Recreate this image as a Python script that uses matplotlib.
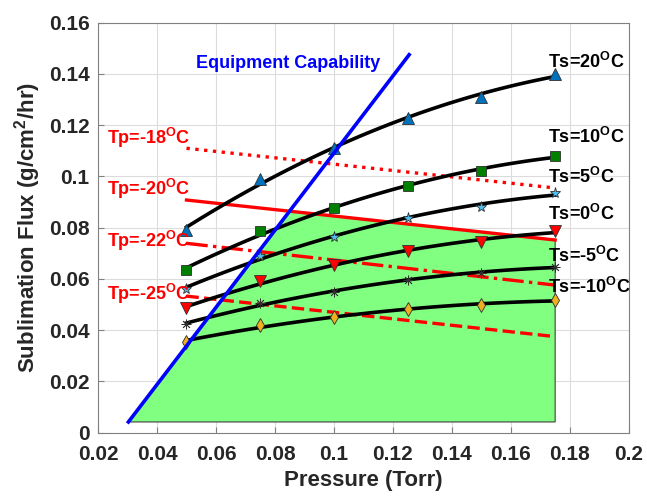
import numpy as np
import matplotlib
matplotlib.use("Agg")
from matplotlib import pyplot as plt

plt.rcParams.update({
    "font.family": "Liberation Sans", "font.weight": "bold",
    "mathtext.fontset": "custom", "mathtext.rm": "Liberation Sans:bold",
    "mathtext.it": "Liberation Sans:bold", "mathtext.bf": "Liberation Sans:bold",
})

# shelf temperature series: pressure (Torr) vs sublimation flux (g/cm2/hr)
pressure = [0.05, 0.075, 0.1, 0.125, 0.15, 0.175]
ts_labels = ["Ts=20$^{O}$C", "Ts=10$^{O}$C", "Ts=5$^{O}$C",
             "Ts=0$^{O}$C", "Ts=-5$^{O}$C", "Ts=-10$^{O}$C"]
flux_ts20 = [0.0791, 0.0990, 0.1110, 0.1229, 0.1309, 0.1399]
flux_ts10 = [0.0635, 0.0787, 0.0876, 0.0963, 0.1021, 0.1081]
flux_ts5 = [0.0560, 0.0691, 0.0765, 0.0839, 0.0882, 0.0934]
flux_ts0 = [0.0485, 0.0593, 0.0654, 0.0709, 0.0745, 0.0787]
flux_tsm5 = [0.0423, 0.0507, 0.0550, 0.0596, 0.0622, 0.0648]
flux_tsm10 = [0.0355, 0.0420, 0.0450, 0.0481, 0.0498, 0.0518]
ts_label_y = [0.1422, 0.1129, 0.0973, 0.0830, 0.0667, 0.0544]

# product temperature isotherms (start/end at 0.05 and 0.175 Torr)
tp_labels = ["Tp=-18$^{O}$C", "Tp=-20$^{O}$C", "Tp=-22$^{O}$C", "Tp=-25$^{O}$C"]
tp_x = [0.05, 0.175]
tp_m18 = [0.1110, 0.0955]
tp_m20 = [0.0908, 0.0752]
tp_m22 = [0.0739, 0.0576]
tp_m25 = [0.0533, 0.0375]
tp_label_y = [0.1127, 0.0928, 0.0723, 0.0518]

# equipment capability line
eq_x = [0.0303, 0.1255]
eq_y = [0.0042, 0.1475]

fig = plt.figure(figsize=(6.47, 5.01), dpi=100)
ax = fig.add_axes([0.1515, 0.1363, 0.8205, 0.8184])

# green design space: below Tp=-20 line, right of equipment line
s_eq = (eq_y[1] - eq_y[0]) / (eq_x[1] - eq_x[0])
s_tp = (tp_m20[1] - tp_m20[0]) / (tp_x[1] - tp_x[0])
xi = (tp_m20[0] - s_tp * tp_x[0] - eq_y[0] + s_eq * eq_x[0]) / (s_eq - s_tp)
yi = eq_y[0] + s_eq * (xi - eq_x[0])
ax.fill([eq_x[0], xi, tp_x[1], tp_x[1]], [eq_y[0], yi, tp_m20[1], eq_y[0]],
        facecolor="#80ff80", edgecolor="#404040", linewidth=0.8, zorder=1)

for ys, ls in zip([tp_m18, tp_m20, tp_m22, tp_m25], [":", "-", "-.", "--"]):
    ax.plot(tp_x, ys, color="#ff0000", linestyle=ls, linewidth=2.4, zorder=2)

series = [flux_ts20, flux_ts10, flux_ts5, flux_ts0, flux_tsm5, flux_tsm10]
markers = ["^", "s", "*", "v", (8, 2, 0), "d"]
sizes = [8, 6.5, 8, 8, 7, 7.5]
colors = ["#0072bd", "#007f00", "#4dbeee", "#ff0000", "#404040", "#edb120"]
xs = np.linspace(pressure[0], pressure[-1], 60)
for ys, mk, ms, c in zip(series, markers, sizes, colors):
    fit = np.polyfit(pressure, ys, 2)
    ax.plot(xs, np.polyval(fit, xs), color="black", linewidth=2.6, zorder=3)
    ax.plot(pressure, ys, linestyle="none", marker=mk, markersize=ms,
            markerfacecolor=c, markeredgecolor="#303030", markeredgewidth=0.6, zorder=4)

ax.plot(eq_x, eq_y, color="#0000ff", linewidth=2.6, zorder=5)

for lab, y in zip(ts_labels, ts_label_y):
    ax.text(0.1726, y, lab, fontsize=13, fontweight="bold", color="black", zorder=6)
for lab, y in zip(tp_labels, tp_label_y):
    ax.text(0.0229, y, lab, fontsize=13, fontweight="bold", color="#ff0000", zorder=6)
ax.text(0.0532, 0.1422, "Equipment Capability", fontsize=13, fontweight="bold",
        color="#0000ff", zorder=6)

ax.set_xlim(0.02, 0.2)
ax.set_ylim(0, 0.16)
ax.set_xticks(np.arange(0.02, 0.201, 0.02))
ax.set_yticks(np.arange(0, 0.161, 0.02))
ax.set_xticklabels(["0.02", "0.04", "0.06", "0.08", "0.1", "0.12", "0.14", "0.16", "0.18", "0.2"])
ax.set_yticklabels(["0", "0.02", "0.04", "0.06", "0.08", "0.1", "0.12", "0.14", "0.16"])
ax.tick_params(direction="in", labelsize=15, color="#808080", labelcolor="#262626", length=4)
ax.tick_params(axis="x", pad=9)
ax.tick_params(axis="y", pad=6)
ax.grid(True, color="#dcdcdc", linewidth=0.8)
ax.set_axisbelow(True)
for sp in ax.spines.values():
    sp.set_color("#808080")
ax.set_xlabel("Pressure (Torr)", fontsize=16, fontweight="bold", color="#262626", labelpad=4)
ax.set_ylabel("Sublimation Flux (g/cm$^2$/hr)", fontsize=16, fontweight="bold",
              color="#262626", labelpad=4)

fig.savefig("out.png", dpi=100)
